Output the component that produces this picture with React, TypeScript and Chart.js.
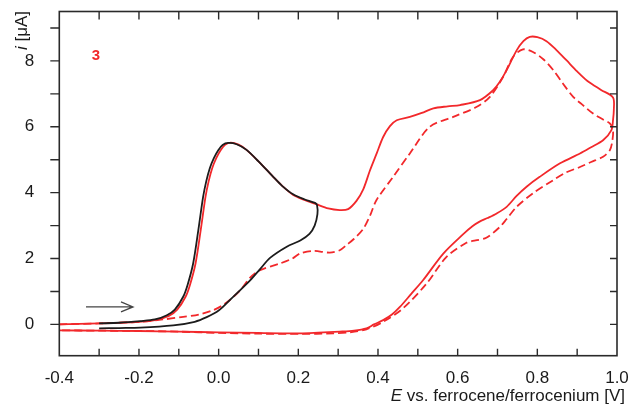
import React, { useEffect, useRef } from "react";
import { Chart, registerables } from "chart.js";

Chart.register(...registerables);

// ---- Data (E in V vs Fc/Fc+, i in µA) ----
const blackE = [-0.3, -0.25, -0.197, -0.114, -0.06, -0.03, 0.0, 0.028, 0.079, 0.104, 0.129, 0.171, 0.205, 0.228, 0.241, 0.248, 0.247, 0.242, 0.215, 0.187, 0.16, 0.137, 0.1, 0.07, 0.045, 0.024, 0.01, -0.001, -0.012, -0.022, -0.031, -0.039, -0.051, -0.064, -0.078, -0.089, -0.11, -0.13, -0.16, -0.197, -0.25, -0.3];
const blackI = [-0.12, -0.11, -0.1, -0.03, 0.08, 0.22, 0.42, 0.74, 1.34, 1.68, 2.02, 2.36, 2.55, 2.75, 3.0, 3.35, 3.62, 3.69, 3.8, 3.95, 4.2, 4.48, 4.95, 5.3, 5.47, 5.51, 5.45, 5.29, 5.05, 4.75, 4.35, 3.87, 2.86, 1.85, 1.2, 0.84, 0.45, 0.28, 0.15, 0.1, 0.05, 0.03];

const redSolidE = [-0.4, -0.3, -0.2, -0.16, -0.125, -0.104, -0.083, -0.072, -0.058, -0.045, -0.033, -0.025, -0.016, -0.006, 0.005, 0.016, 0.03, 0.05, 0.07, 0.1, 0.137, 0.16, 0.187, 0.215, 0.245, 0.275, 0.304, 0.325, 0.346, 0.363, 0.38, 0.397, 0.413, 0.43, 0.447, 0.48, 0.51, 0.539, 0.575, 0.606, 0.656, 0.689, 0.705, 0.723, 0.748, 0.765, 0.781, 0.8, 0.823, 0.848, 0.873, 0.9, 0.925, 0.96, 0.99, 0.992, 0.99, 0.986, 0.965, 0.935, 0.907, 0.857, 0.806, 0.773, 0.748, 0.723, 0.698, 0.675, 0.655, 0.637, 0.614, 0.564, 0.513, 0.483, 0.455, 0.435, 0.413, 0.39, 0.371, 0.34, 0.304, 0.25, 0.204, 0.1, 0.0, -0.1, -0.2, -0.3, -0.4];
const redSolidI = [0.0, 0.03, 0.08, 0.13, 0.26, 0.45, 0.84, 1.2, 1.85, 2.86, 3.87, 4.35, 4.75, 5.05, 5.29, 5.45, 5.52, 5.46, 5.3, 4.95, 4.48, 4.2, 3.93, 3.78, 3.65, 3.52, 3.47, 3.5, 3.75, 4.1, 4.68, 5.2, 5.69, 6.02, 6.2, 6.3, 6.42, 6.56, 6.62, 6.66, 6.81, 7.11, 7.35, 7.72, 8.32, 8.6, 8.73, 8.72, 8.6, 8.33, 8.02, 7.68, 7.4, 7.12, 6.89, 6.5, 6.2, 5.9, 5.59, 5.38, 5.19, 4.89, 4.48, 4.18, 3.9, 3.57, 3.37, 3.23, 3.12, 2.98, 2.74, 2.15, 1.34, 0.92, 0.53, 0.3, 0.13, 0.0, -0.12, -0.19, -0.22, -0.25, -0.27, -0.26, -0.24, -0.22, -0.2, -0.19, -0.18];

const redDashE = [-0.4, -0.3, -0.197, -0.14, -0.089, -0.05, -0.014, 0.01, 0.028, 0.055, 0.079, 0.104, 0.154, 0.185, 0.204, 0.237, 0.279, 0.304, 0.321, 0.34, 0.363, 0.38, 0.396, 0.438, 0.48, 0.53, 0.589, 0.647, 0.681, 0.714, 0.739, 0.764, 0.789, 0.815, 0.84, 0.865, 0.89, 0.915, 0.94, 0.965, 0.982, 0.99, 0.988, 0.982, 0.965, 0.935, 0.907, 0.87, 0.84, 0.789, 0.748, 0.723, 0.706, 0.672, 0.645, 0.622, 0.572, 0.522, 0.463, 0.413, 0.371, 0.33, 0.288, 0.204, 0.1, 0.0, -0.1, -0.2, -0.3, -0.4];
const redDashI = [0.0, 0.03, 0.08, 0.15, 0.23, 0.3, 0.43, 0.58, 0.74, 1.05, 1.42, 1.65, 1.85, 2.0, 2.15, 2.23, 2.18, 2.25, 2.41, 2.6, 2.9, 3.3, 3.77, 4.48, 5.19, 6.0, 6.3, 6.6, 6.91, 7.51, 8.12, 8.35, 8.27, 8.05, 7.72, 7.3, 6.91, 6.65, 6.4, 6.22, 6.1, 5.9, 5.55, 5.29, 5.09, 4.93, 4.78, 4.6, 4.38, 3.98, 3.57, 3.2, 2.96, 2.63, 2.55, 2.48, 2.05, 1.24, 0.49, 0.08, -0.15, -0.24, -0.27, -0.29, -0.28, -0.26, -0.22, -0.2, -0.19, -0.18];

const xTickValues = [-0.4, -0.2, 0.0, 0.2, 0.4, 0.6, 0.8, 1.0];
const yTickValues = [0, 2, 4, 6, 8];
const xMinorTicks = [-0.3, -0.2, -0.1, 0.0, 0.1, 0.2, 0.3, 0.4, 0.5, 0.6, 0.7, 0.8, 0.9];
const yMinorTicks = [0, 1, 2, 3, 4, 5, 6, 7, 8, 9];

const xTitleItalic = "E";
const xTitleRest = " vs. ferrocene/ferrocenium [V]";
const yTitleItalic = "i";
const yTitleRest = " [μA]";
const panelLabel = "3";
const arrowE = [-0.333, -0.215];
const arrowI = 0.53;

const FONT = "'Liberation Sans', Arial, sans-serif";
const RED = "#f2282b";
const BLACK = "#1c1c1c";
const AXIS = "#2a2a2a";

const toPts = (xs: number[], ys: number[]) => xs.map((x, i) => ({ x, y: ys[i] }));

const decorPlugin = {
  id: "decor",
  afterDraw(chart: any) {
    const { ctx, chartArea: ca, scales } = chart;
    const xs = scales.x;
    const ys = scales.y;
    ctx.save();
    // frame
    ctx.strokeStyle = AXIS;
    ctx.lineWidth = 1.6;
    ctx.strokeRect(ca.left, ca.top, ca.right - ca.left, ca.bottom - ca.top);
    ctx.lineWidth = 1.4;
    ctx.beginPath();
    for (const v of xMinorTicks) {
      const px = xs.getPixelForValue(v);
      ctx.moveTo(px, ca.bottom);
      ctx.lineTo(px, ca.bottom - 7);
      ctx.moveTo(px, ca.top);
      ctx.lineTo(px, ca.top + 8);
    }
    for (const v of yMinorTicks) {
      const py = ys.getPixelForValue(v);
      ctx.moveTo(ca.left, py);
      ctx.lineTo(ca.left - 9, py);
      ctx.moveTo(ca.right, py);
      ctx.lineTo(ca.right - 7, py);
    }
    ctx.stroke();

    // x title
    ctx.fillStyle = "#1a1a1a";
    ctx.textBaseline = "alphabetic";
    ctx.font = `17px ${FONT}`;
    const restW = ctx.measureText(xTitleRest).width;
    ctx.font = `italic 17px ${FONT}`;
    const itW = ctx.measureText(xTitleItalic).width;
    const xEnd = 625;
    const xStart = xEnd - restW - itW;
    const base = 401;
    ctx.fillText(xTitleItalic, xStart, base);
    ctx.font = `17px ${FONT}`;
    ctx.fillText(xTitleRest, xStart + itW, base);

    // y title (rotated)
    ctx.save();
    ctx.translate(27, 50);
    ctx.rotate(-Math.PI / 2);
    ctx.font = `italic 17px ${FONT}`;
    const yiW = ctx.measureText(yTitleItalic).width;
    ctx.fillText(yTitleItalic, 0, 0);
    ctx.font = `17px ${FONT}`;
    ctx.fillText(yTitleRest, yiW, 0);
    ctx.restore();

    // panel label
    ctx.fillStyle = RED;
    ctx.font = `bold 15px ${FONT}`;
    ctx.textAlign = "center";
    ctx.textBaseline = "middle";
    ctx.fillText(panelLabel, 96, 56);

    // arrow
    const ax0 = xs.getPixelForValue(arrowE[0]);
    const ax1 = xs.getPixelForValue(arrowE[1]);
    const ay = ys.getPixelForValue(arrowI);
    ctx.strokeStyle = "#444";
    ctx.lineWidth = 1.3;
    ctx.beginPath();
    ctx.moveTo(ax0, ay);
    ctx.lineTo(ax1, ay);
    ctx.moveTo(ax1 - 12, ay - 5);
    ctx.lineTo(ax1, ay);
    ctx.lineTo(ax1 - 12, ay + 5);
    ctx.stroke();
    ctx.restore();
  },
};

export default function App() {
  const ref = useRef<HTMLCanvasElement>(null);
  useEffect(() => {
    if (!ref.current) return;
    const chart = new Chart(ref.current, {
      type: "scatter",
      data: {
        datasets: [
          {
            data: toPts(blackE, blackI),
            showLine: true,
            borderColor: BLACK,
            borderWidth: 1.8,
            pointRadius: 0,
            tension: 0.3,
            order: 0,
          },
          {
            data: toPts(redSolidE, redSolidI),
            showLine: true,
            borderColor: RED,
            borderWidth: 1.8,
            pointRadius: 0,
            tension: 0.3,
            order: 1,
          },
          {
            data: toPts(redDashE, redDashI),
            showLine: true,
            borderColor: RED,
            borderWidth: 1.8,
            borderDash: [8, 4],
            pointRadius: 0,
            tension: 0.3,
            order: 2,
          },
        ],
      },
      options: {
        responsive: false,
        animation: false,
        events: [],
        layout: { padding: { left: 0, right: 14, top: 11.5, bottom: 0 } },
        plugins: { legend: { display: false }, tooltip: { enabled: false } },
        scales: {
          x: {
            type: "linear",
            min: -0.4,
            max: 1.0,
            grid: { display: false },
            border: { display: false },
            afterFit: (s: any) => {
              s.height = 406 - 355.7;
              s.paddingLeft = 0;
              s.paddingRight = 0;
            },
            afterBuildTicks: (s: any) => { s.ticks = xTickValues.map((v) => ({ value: v })); },
            ticks: {
              autoSkip: false,
              maxRotation: 0,
              padding: 4,
              color: "#1a1a1a",
              font: { family: FONT, size: 17 },
              callback: (v: any) => Number(v).toFixed(1),
            },
          },
          y: {
            type: "linear",
            min: -0.95,
            max: 9.5,
            grid: { display: false },
            border: { display: false },
            afterFit: (s: any) => {
              s.width = 59.3;
              s.paddingTop = 0;
              s.paddingBottom = 0;
            },
            afterBuildTicks: (s: any) => { s.ticks = yTickValues.map((v) => ({ value: v })); },
            ticks: {
              autoSkip: false,
              padding: 17,
              color: "#1a1a1a",
              font: { family: FONT, size: 17 },
              callback: (v: any) => String(v),
            },
          },
        },
      },
      plugins: [decorPlugin],
    });
    return () => chart.destroy();
  }, []);
  return (
    <div style={{ position: "fixed", left: 0, top: 0, width: 631, height: 406, background: "#fff" }}>
      <canvas ref={ref} width={631} height={406} style={{ display: "block" }} />
    </div>
  );
}
